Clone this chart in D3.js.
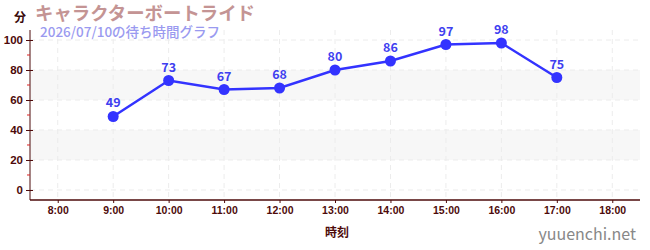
<!DOCTYPE html>
<html>
<head>
<meta charset="utf-8">
<script src="https://cdn.jsdelivr.net/npm/d3@7"></script>
<style>
body{margin:0;background:#fff;}
svg{display:block;font-family:"Noto Sans CJK JP","Noto Sans",sans-serif;}
</style>
</head>
<body>
<svg id="chart" width="650" height="250"></svg>
<script>
// wait times by hour
var hours = [9, 10, 11, 12, 13, 14, 15, 16, 17];
var waits = [49, 73, 67, 68, 80, 86, 97, 98, 75];
var xTicks = [8, 9, 10, 11, 12, 13, 14, 15, 16, 17, 18];
var yTicks = [0, 20, 40, 60, 80, 100];
var bands = [[20, 40], [60, 80]];

var svg = d3.select("#chart");
var mL = 30, mR = 640, mT = 30, mB = 200;
var axisCol = "#4d0a0a";

var x = d3.scaleLinear().domain([7.5, 18.5]).range([mL, mR]);
var y = d3.scaleLinear().domain([-6.67, 106.67]).range([mB, mT]);

// grey bands
svg.selectAll("rect.band").data(bands).enter().append("rect")
    .attr("x", mL).attr("width", mR - mL)
    .attr("y", d => y(d[1])).attr("height", d => y(d[0]) - y(d[1]))
    .attr("fill", "#f7f7f7");

// grid
svg.selectAll("line.hg").data(yTicks).enter().append("line")
    .attr("x1", mL).attr("x2", mR)
    .attr("y1", d => y(d)).attr("y2", d => y(d))
    .attr("stroke", "#ececec").attr("stroke-dasharray", "5,4");
svg.selectAll("line.vg").data(xTicks).enter().append("line")
    .attr("x1", d => x(d)).attr("x2", d => x(d))
    .attr("y1", mT).attr("y2", mB)
    .attr("stroke", "#ececec").attr("stroke-dasharray", "5,4");

// y axis
var yAx = svg.append("g").attr("transform", "translate(" + mL + ",0)")
    .call(d3.axisLeft(y).tickValues(yTicks).tickSize(4).tickPadding(3));
yAx.select(".domain").attr("stroke", axisCol).attr("d", "M0," + mT + "V" + mB);
yAx.selectAll(".tick line").attr("stroke", axisCol).attr("x2", 3).attr("x1", -4);
yAx.selectAll("text").attr("fill", axisCol).attr("font-size", 11.5).attr("font-weight", "bold");
svg.selectAll("line.minor").data([10, 30, 50, 70, 90]).enter().append("line")
    .attr("x1", mL - 3).attr("x2", mL)
    .attr("y1", d => y(d)).attr("y2", d => y(d))
    .attr("stroke", "#dd2222");

// x axis
var xAx = svg.append("g").attr("transform", "translate(0," + mB + ")")
    .call(d3.axisBottom(x).tickValues(xTicks).tickFormat(d => d + ":00").tickSize(3).tickPadding(4));
xAx.select(".domain").attr("stroke", axisCol).attr("stroke-width", 1.5).attr("d", "M" + mL + ",0H" + mR);
xAx.selectAll(".tick line").attr("stroke", axisCol);
xAx.selectAll("text").attr("fill", axisCol).attr("font-size", 10.5).attr("font-weight", "bold");

// line + points
var line = d3.line().x((d, i) => x(hours[i])).y(d => y(d));
svg.append("path").datum(waits).attr("d", line)
    .attr("fill", "none").attr("stroke", "#3333ff").attr("stroke-width", 2.5);
svg.selectAll("circle.pt").data(waits).enter().append("circle")
    .attr("cx", (d, i) => x(hours[i])).attr("cy", d => y(d)).attr("r", 5.5)
    .attr("fill", "#3333ff");
svg.selectAll("text.lbl").data(waits).enter().append("text")
    .attr("x", (d, i) => x(hours[i])).attr("y", d => y(d) - 9)
    .attr("text-anchor", "middle").attr("font-size", 12.5).attr("font-weight", "bold")
    .attr("fill", "#3f3ff0").text(d => d);

// titles
svg.append("text").attr("x", 14).attr("y", 22).attr("font-size", 12).attr("font-weight", "bold")
    .attr("fill", "#3a0a0a").text("分");
svg.append("text").attr("x", 35).attr("y", 20).attr("font-size", 18.4).attr("font-weight", "bold")
    .attr("fill", "#c49494").text("キャラクターボートライド");
svg.append("text").attr("x", 40).attr("y", 37).attr("font-size", 13.5).attr("font-weight", 500)
    .attr("fill", "#9a9af0").text("2026/07/10の待ち時間グラフ");
svg.append("text").attr("x", 337).attr("y", 237).attr("text-anchor", "middle")
    .attr("font-size", 12).attr("font-weight", "bold").attr("fill", "#4d0a0a").text("時刻");
svg.append("text").attr("x", 636).attr("y", 240).attr("text-anchor", "end")
    .attr("font-size", 16).attr("fill", "#888").text("yuuenchi.net");
</script>
</body>
</html>
